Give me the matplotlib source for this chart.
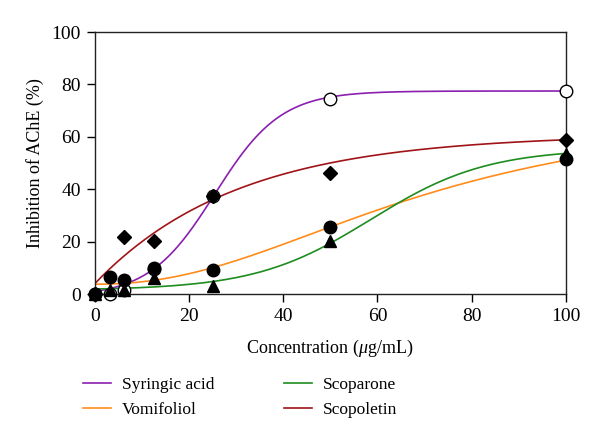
import matplotlib.pyplot as plt
import numpy as np

plt.rcParams['font.family'] = ['Liberation Serif', 'DejaVu Serif']
plt.rcParams['mathtext.fontset'] = 'custom'
plt.rcParams['mathtext.it'] = 'Liberation Serif:italic'

# concentrations (ug/mL)
conc = [0, 3.125, 6.25, 12.5, 25, 50, 100]

# measured inhibition (%)
syringic = [0, 0, 1.5, 9.5, 37.3, 74.5, 77.5]
vomifoliol = [0, 6.6, 5.4, 9.8, 9.2, 25.8, 51.5]
scoparone = [0, 1.5, 1.5, 6.0, 3.0, 20.3, 53.5]
scopoletin = [0, None, 21.7, 20.2, 37.5, 46.3, 59.0]

# fitted curve parameters
syringic_fit = dict(y0=-1.0, a=78.5, x0=25.5, b=7.0)        # sigmoid
scoparone_fit = dict(y0=1.5, a=54.0, x0=58.6, b=12.3)       # sigmoid
vomifoliol_fit = dict(y0=3.8, a=70.0, c=71.6, n=2.2)        # hill
scopoletin_fit = dict(y0=4.0, a=57.0, k=0.033)              # exp rise


def sigmoid(x, y0, a, x0, b):
    return y0 + a / (1 + np.exp(-(x - x0) / b))


def hill(x, y0, a, c, n):
    return y0 + a * x ** n / (c ** n + x ** n)


def exp_rise(x, y0, a, k):
    return y0 + a * (1 - np.exp(-k * x))


def main() -> None:
    fig = plt.figure(figsize=(6.0, 4.45), dpi=100)
    ax = fig.add_axes([0.158, 0.339, 0.785, 0.589])

    xs = np.linspace(0, 100, 400)
    l1, = ax.plot(xs, sigmoid(xs, **syringic_fit), color='#8B1FB0', lw=1.2)
    l2, = ax.plot(xs, hill(xs, **vomifoliol_fit), color='#FF8C1A', lw=1.2)
    l3, = ax.plot(xs, sigmoid(xs, **scoparone_fit), color='#1E8C1E', lw=1.2)
    l4, = ax.plot(xs, exp_rise(xs, **scopoletin_fit), color='#A01418', lw=1.2)

    def pts(vals):
        px = [c for c, v in zip(conc, vals) if v is not None]
        py = [v for v in vals if v is not None]
        return px, py

    ax.plot(*pts(syringic), 'o', ms=9, mfc='white', mec='black', mew=1.0,
            clip_on=False, zorder=3)
    ax.plot(*pts(vomifoliol), 'o', ms=9, color='black', clip_on=False, zorder=4)
    ax.plot(*pts(scoparone), '^', ms=8, color='black', clip_on=False, zorder=4)
    ax.plot(*pts(scopoletin), 'D', ms=7.5, color='black', clip_on=False, zorder=4)

    ax.set_xlim(0, 100)
    ax.set_ylim(0, 100)
    ax.set_xticks(np.arange(0, 101, 20))
    ax.set_yticks(np.arange(0, 101, 20))
    ax.tick_params(direction='out', length=6, width=1, labelsize=14,
                   top=False, right=False, pad=4)
    for s in ax.spines.values():
        s.set_linewidth(1.0)
        s.set_color('#222222')

    ax.set_xlabel(r'Concentration ($\mathit{\mu}$g/mL)', fontsize=13, labelpad=9)
    ax.set_ylabel('Inhibition of AChE (%)', fontsize=13, labelpad=5.5)

    fig.legend([l1, l2, l3, l4],
               ['Syringic acid', 'Vomifoliol', 'Scoparone', 'Scopoletin'],
               ncol=2, frameon=False, fontsize=12.5, loc='upper left',
               bbox_to_anchor=(0.138, 0.153), borderpad=0, borderaxespad=0,
               handlelength=1.6, handletextpad=0.65,
               columnspacing=4.0, labelspacing=0.53)

    fig.savefig('out.png', dpi=100)


if __name__ == '__main__':
    main()
